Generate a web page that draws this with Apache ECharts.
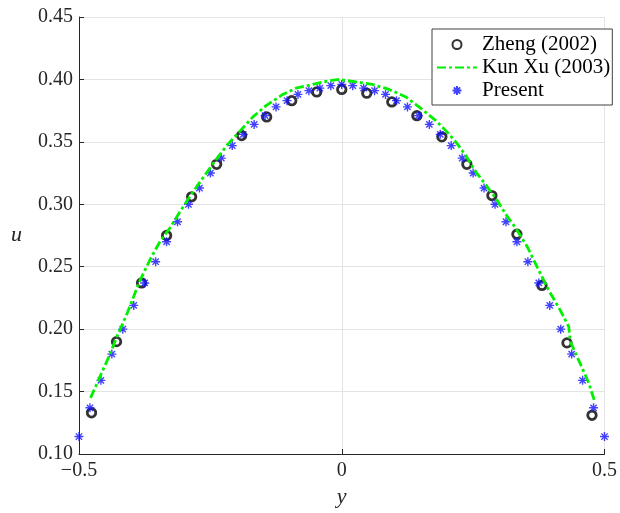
<!DOCTYPE html>
<html>
<head>
<meta charset="utf-8">
<script src="https://cdn.jsdelivr.net/npm/echarts@6.0.0/dist/echarts.min.js"></script>
<style>
  html, body { margin: 0; padding: 0; background: #fff; }
  #chart { width: 620px; height: 513px; }
</style>
</head>
<body>
<div id="chart"></div>
<script>
// --- DATA ---
const zhengX = [-0.4762, -0.4286, -0.3810, -0.3333, -0.2857, -0.2381, -0.1905, -0.1429, -0.0952, -0.0476, 0,
                0.0476, 0.0952, 0.1429, 0.1905, 0.2381, 0.2857, 0.3333, 0.3810, 0.4286, 0.4762];
const zhengU = [0.133, 0.190, 0.237, 0.275, 0.306, 0.332, 0.355, 0.370, 0.383, 0.390, 0.392,
                0.389, 0.382, 0.371, 0.354, 0.332, 0.307, 0.276, 0.235, 0.189, 0.131];

const kunXuX = [-0.478, -0.460, -0.441, -0.428, -0.409, -0.384, -0.362, -0.346, -0.327, -0.305, -0.283,
                -0.261, -0.239, -0.217, -0.195, -0.169, -0.144, -0.112, -0.087, -0.055, -0.024, -0.005,
                0.027, 0.058, 0.090, 0.122, 0.153, 0.179, 0.198, 0.217, 0.236, 0.255, 0.277, 0.296,
                0.312, 0.331, 0.353, 0.375, 0.394, 0.416, 0.432, 0.435, 0.451, 0.470, 0.482];
const kunXuU = [0.145, 0.162, 0.180, 0.194, 0.212, 0.239, 0.258, 0.270, 0.281, 0.296, 0.310,
                0.323, 0.336, 0.348, 0.358, 0.370, 0.379, 0.388, 0.393, 0.396, 0.399, 0.400,
                0.398, 0.396, 0.392, 0.386, 0.376, 0.367, 0.359, 0.350, 0.339, 0.326, 0.314, 0.303,
                0.292, 0.281, 0.266, 0.247, 0.231, 0.215, 0.202, 0.190, 0.175, 0.157, 0.141];

const presentX = [-0.5, -0.47917, -0.45833, -0.4375, -0.41667, -0.39583, -0.375, -0.35417, -0.33333,
                  -0.3125, -0.29167, -0.27083, -0.25, -0.22917, -0.20833, -0.1875, -0.16667, -0.14583,
                  -0.125, -0.10417, -0.08333, -0.0625, -0.04167, -0.02083, 0,
                  0.02083, 0.04167, 0.0625, 0.08333, 0.10417, 0.125, 0.14583, 0.16667, 0.1875,
                  0.20833, 0.22917, 0.25, 0.27083, 0.29167, 0.3125, 0.33333, 0.35417, 0.375,
                  0.39583, 0.41667, 0.4375, 0.45833, 0.47917, 0.5];
const presentU = [0.114, 0.137, 0.159, 0.180, 0.200, 0.219, 0.237, 0.254, 0.270,
                  0.286, 0.300, 0.313, 0.325, 0.337, 0.347, 0.356, 0.364, 0.371,
                  0.378, 0.383, 0.388, 0.391, 0.393, 0.395, 0.396,
                  0.395, 0.393, 0.391, 0.388, 0.383, 0.378, 0.371, 0.364, 0.356,
                  0.347, 0.337, 0.325, 0.313, 0.300, 0.286, 0.270, 0.254, 0.237,
                  0.219, 0.200, 0.180, 0.159, 0.137, 0.114];

const seriesNames = ['Zheng (2002)', 'Kun Xu (2003)', 'Present'];
const xTicks = { '-0.5': '\u22120.5', '0': '0', '0.5': '0.5' };

// --- HELPERS ---
const zip = (xs, ys) => xs.map((x, i) => [x, ys[i]]);
const FONT = 'Liberation Serif';
const AXIS_COLOR = '#262626';
const asterisk = 'path://M0,-1L0,1M-1,0L1,0M-0.7,-0.7L0.7,0.7M-0.7,0.7L0.7,-0.7';

const chart = echarts.init(document.getElementById('chart'), null, { renderer: 'canvas' });

const option = {
    backgroundColor: '#fff',
    animation: false,
    grid: { left: 79, right: 14, top: 17, bottom: 55, containLabel: false },
    legend: {
        left: 432, top: 29,
        orient: 'vertical',
        align: 'left',
        backgroundColor: '#fff',
        borderColor: '#404040',
        borderWidth: 1,
        borderRadius: 0,
        padding: [5, 2, 4, 4],
        itemWidth: 40,
        itemHeight: 9,
        itemGap: 2,
        textStyle: { fontFamily: FONT, fontSize: 21, color: '#000' },
        data: [
            seriesNames[0],
            // line legend: hide the marker dot, keep only the dash-dot line
            { name: seriesNames[1], itemStyle: { color: 'rgba(0,0,0,0)', borderColor: 'rgba(0,0,0,0)', borderWidth: 0 } },
            seriesNames[2]
        ]
    },
    xAxis: {
        type: 'value',
        min: -0.5, max: 0.5, interval: 0.5,
        name: 'y',
        nameLocation: 'middle',
        nameGap: 32,
        nameTextStyle: { fontFamily: FONT, fontSize: 22, fontStyle: 'italic', color: AXIS_COLOR },
        axisLine: { onZero: false, lineStyle: { color: AXIS_COLOR, width: 1 } },
        axisTick: { inside: true, length: 5, lineStyle: { color: AXIS_COLOR } },
        axisLabel: {
            fontFamily: FONT, fontSize: 20, color: AXIS_COLOR, margin: 7,
            formatter: v => xTicks[String(v)] !== undefined ? xTicks[String(v)] : v
        },
        splitLine: { show: true, lineStyle: { color: '#e3e3e3', width: 1 } }
    },
    yAxis: {
        type: 'value',
        min: 0.10, max: 0.45, interval: 0.05,
        name: 'u',
        nameLocation: 'middle',
        nameRotate: 0,
        nameGap: 57,
        nameTextStyle: { fontFamily: FONT, fontSize: 22, fontStyle: 'italic', color: AXIS_COLOR },
        axisLine: { show: true, onZero: false, lineStyle: { color: AXIS_COLOR, width: 1 } },
        axisTick: { show: true, inside: true, length: 5, lineStyle: { color: AXIS_COLOR } },
        axisLabel: { fontFamily: FONT, fontSize: 20, color: AXIS_COLOR, margin: 6, formatter: v => v.toFixed(2) },
        splitLine: { show: true, lineStyle: { color: '#e3e3e3', width: 1 } }
    },
    series: [
        {
            name: seriesNames[0],
            type: 'scatter',
            data: zip(zhengX, zhengU),
            symbol: 'circle',
            symbolSize: 8.5,
            itemStyle: { color: 'rgba(0,0,0,0)', borderColor: '#000', borderWidth: 2.8 }
        },
        {
            name: seriesNames[1],
            type: 'line',
            data: zip(kunXuX, kunXuU),
            symbol: 'none',
            showSymbol: false,
            smooth: false,
            itemStyle: { color: '#00f000' },
            lineStyle: { color: '#00f000', width: 2.8, type: [9, 3, 3, 3] }
        },
        {
            name: seriesNames[2],
            type: 'scatter',
            data: zip(presentX, presentU),
            symbol: asterisk,
            symbolSize: 9,
            itemStyle: { color: 'rgba(0,0,0,0)', borderColor: '#1414ff', borderWidth: 1.4 }
        }
    ]
};

chart.setOption(option);
</script>
</body>
</html>
